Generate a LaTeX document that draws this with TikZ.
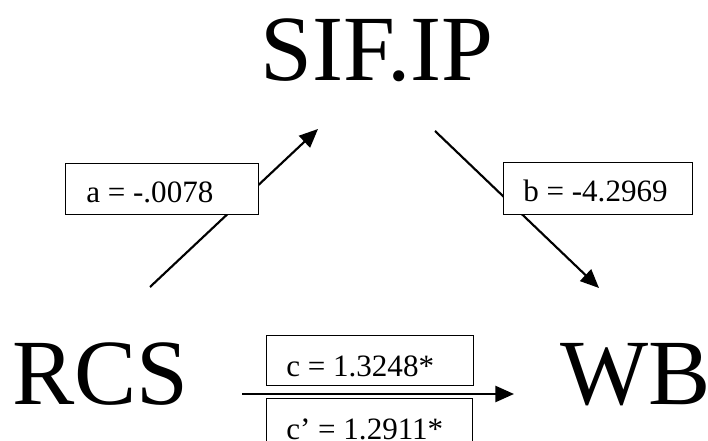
\documentclass[tikz,border=0pt]{standalone}
\usepackage{fontspec}
\setmainfont{Liberation Serif}
\usetikzlibrary{arrows.meta}
\begin{document}
\begin{tikzpicture}[x=0.75pt,y=-0.75pt,
  big/.style={font=\fontsize{70}{70}\selectfont, inner sep=0pt},
  coef/.style={draw, fill=white, line width=0.8pt, inner sep=0pt, anchor=north west},
  coeftext/.style={font=\fontsize{23.3}{23.3}\selectfont, anchor=base west, inner sep=0pt},
  path/.style={line width=1.6pt, -{Triangle[length=14pt,width=12pt]}}]
\useasboundingbox (0,0) rectangle (708,441);
\clip (0,0) rectangle (708,441);
% main variables
\node[big, anchor=base] (sif) at (377,81) {SIF.IP};
\node[big, anchor=base west] (rcs) at (12,405) {RCS};
\node[big, anchor=base west] (wb) at (560,405) {WB};
% path end points
\coordinate (a0) at (150,287);
\coordinate (a1) at (318,129);
\coordinate (b0) at (435,131);
\coordinate (b1) at (599,288);
\coordinate (c0) at (242,394);
\coordinate (c1) at (514,394);
\draw[path] (a0) -- (a1);
\draw[path] (b0) -- (b1);
\draw[path, line width=1.9pt] (c0) -- (c1);
% coefficient boxes
\node[coef, minimum width=193*0.75pt, minimum height=51*0.75pt] (ba) at (65,163) {};
\node[coeftext] (ta) at (86,203) {a = -.0078};
\node[coef, minimum width=189*0.75pt, minimum height=52*0.75pt] (bb) at (503,162) {};
\node[coeftext] (tb) at (523,202) {b = -4.2969};
\node[coef, minimum width=207*0.75pt, minimum height=50*0.75pt] (bc) at (266,335) {};
\node[coeftext] (tc) at (286,377) {c = 1.3248*};
\node[coef, minimum width=206*0.75pt, minimum height=50*0.75pt] (bcp) at (266,398) {};
\node[coeftext] (tcp) at (286,440) {c’ = 1.2911*};
\end{tikzpicture}
\end{document}
